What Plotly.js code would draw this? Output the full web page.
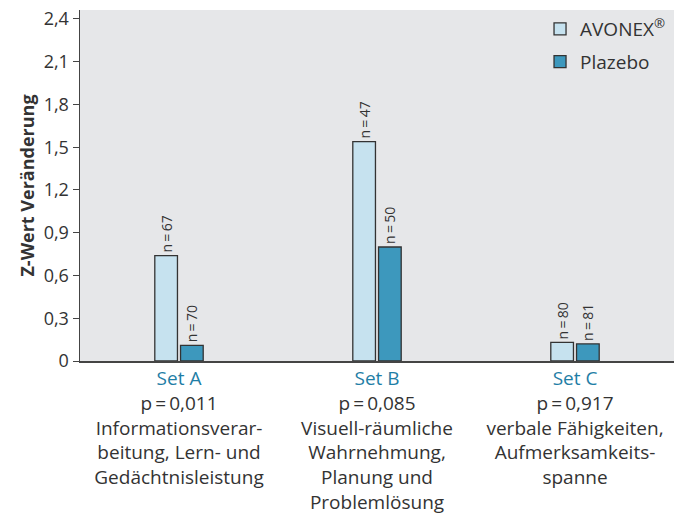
<!DOCTYPE html>
<html><head><meta charset="utf-8">
<script src="https://cdn.plot.ly/plotly-3.0.1.min.js"></script>
<style>html,body{margin:0;padding:0;background:#fff}#c{width:679px;height:516px}</style>
</head><body><div id="c"></div>
<script>
const categories = ["Set A", "Set B", "Set C"];
const pValues = ["p\u2009=\u20090,011", "p\u2009=\u20090,085", "p\u2009=\u20090,917"];
const descriptions = [
  "Informationsverar-<br>beitung, Lern- und<br>Gedächtnisleistung",
  "Visuell-räumliche<br>Wahrnehmung,<br>Planung und<br>Problemlösung",
  "verbale Fähigkeiten,<br>Aufmerksamkeits-<br>spanne"
];
const avonexValues = [0.74, 1.54, 0.13];
const placeboValues = [0.11, 0.80, 0.12];
const avonexN = ["n\u2009=\u200967", "n\u2009=\u200947", "n\u2009=\u200980"];
const placeboN = ["n\u2009=\u200970", "n\u2009=\u200950", "n\u2009=\u200981"];
const yTickVals = [0, 0.3, 0.6, 0.9, 1.2, 1.5, 1.8, 2.1, 2.4];
const yTickText = ["0", "0,3", "0,6", "0,9", "1,2", "1,5", "1,8", "2,1", "2,4"];

const FONT = "'Open Sans', 'Noto Sans', sans-serif";
const tickText = categories.map((c, i) =>
  `<span style="color:#1f7ea6">${c}</span><br>${pValues[i]}<br>${descriptions[i]}`);

const common = {
  type: "bar",
  textposition: "outside",
  textangle: -90,
  constraintext: "none",
  cliponaxis: false,
  textfont: {family: FONT, size: 14, color: "#333"},
  hoverinfo: "skip"
};
const traces = [
  Object.assign({}, common, {
    name: "AVONEX<sup>®</sup>", legendgroup: "a", x: categories, y: avonexValues, text: avonexN,
    marker: {color: "#c6e2ef", line: {color: "#333", width: 1.3}}
  }),
  Object.assign({}, common, {
    name: "Plazebo", legendgroup: "b", x: categories, y: placeboValues, text: placeboN,
    marker: {color: "#3d98bd", line: {color: "#333", width: 1.3}}
  })
];

const layout = {
  width: 679, height: 516,
  margin: {l: 80, r: 5, t: 10, b: 155},
  paper_bgcolor: "#ffffff",
  plot_bgcolor: "#e6e7e9",
  font: {family: FONT, size: 19, color: "#333"},
  barmode: "group",
  bargap: 0.74,
  bargroupgap: 0.12,
  showlegend: true,
  legend: {x: 0.995, xanchor: "right", y: 1, yanchor: "top", bgcolor: "rgba(0,0,0,0)",
           traceorder: "grouped", tracegroupgap: 5,
           font: {family: FONT, size: 19, color: "#333"}, itemwidth: 30},
  xaxis: {
    type: "category",
    tickvals: categories, ticktext: tickText,
    showline: true, linecolor: "#444", linewidth: 1.5,
    ticks: "", showgrid: false, zeroline: false,
    tickfont: {family: FONT, size: 19, color: "#333"},
    fixedrange: true
  },
  yaxis: {
    range: [0, 2.463],
    tickvals: yTickVals, ticktext: yTickText,
    showline: true, linecolor: "#444", linewidth: 1.5,
    ticks: "outside", ticklen: 6, tickcolor: "#444", tickwidth: 1,
    showgrid: false, zeroline: false,
    tickfont: {family: FONT, size: 18, color: "#333"},
    title: {text: "<b>Z-Wert Veränderung</b>", font: {family: FONT, size: 18, color: "#333"}, standoff: 4},
    fixedrange: true
  }
};
Plotly.newPlot("c", traces, layout, {displayModeBar: false, staticPlot: true});
</script></body></html>
